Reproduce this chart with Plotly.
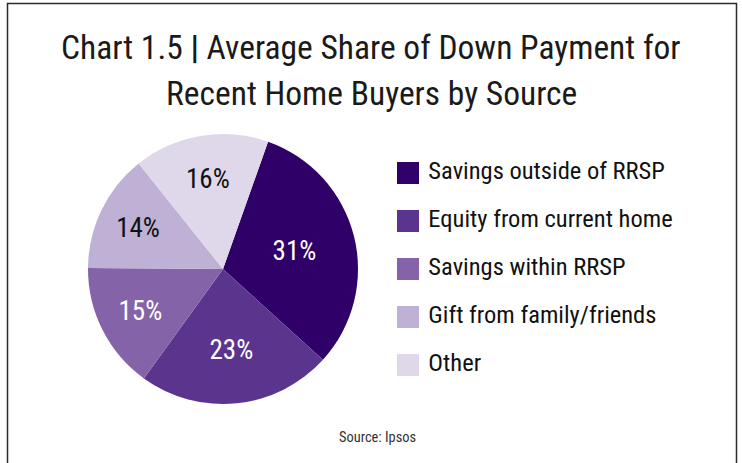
import plotly.graph_objects as go

# ---- data ----
sources = ["Savings outside of RRSP", "Equity from current home", "Savings within RRSP",
           "Gift from family/friends", "Other"]
shares = [31, 23, 15, 14, 16]
colors = ["#2E0068", "#5B358D", "#8463A8", "#BFB1D6", "#DFD8EA"]
label_colors = ["#FFFFFF", "#FFFFFF", "#FFFFFF", "#111111", "#111111"]
title_line1 = "Chart 1.5 <b>|</b> Average Share of Down Payment for"
title_line2 = "Recent Home Buyers by Source"
source_note = "Source: Ipsos"

FONT = "Liberation Sans Narrow, Roboto Condensed, DejaVu Sans Condensed, sans-serif"
W, H = 742, 463

fig = go.Figure()

fig.add_trace(go.Pie(
    labels=sources,
    values=shares,
    sort=False,
    direction="clockwise",
    rotation=19.5,
    marker=dict(colors=colors, line=dict(width=0)),
    texttemplate="%{value}%",
    textposition="inside",
    insidetextorientation="horizontal",
    insidetextfont=dict(family=FONT, size=27, color=label_colors),
    hoverinfo="skip",
    showlegend=False,
    domain=dict(x=[(223 - 135) / W, (223 + 135) / W], y=[(194 - 135) / H, (194 + 135) / H]),
))

# custom legend drawn as a scatter of square markers with labels
fig.add_trace(go.Scatter(
    x=[0] * len(sources),
    y=list(range(len(sources))),
    mode="markers+text",
    marker=dict(symbol="square", size=22, color=colors, line=dict(width=0)),
    text=["\u00a0" + s for s in sources],
    textposition="middle right",
    textfont=dict(family=FONT, size=24.5, color="#111111"),
    hoverinfo="skip",
    showlegend=False,
    cliponaxis=False,
))

fig.update_xaxes(visible=False, range=[-408, W - 408], domain=[0, 1], fixedrange=True)
fig.update_yaxes(visible=False, range=[(H - 173) / 48, -173 / 48], domain=[0, 1], fixedrange=True)

fig.update_layout(
    width=W, height=H,
    margin=dict(l=0, r=0, t=0, b=0),
    paper_bgcolor="white",
    plot_bgcolor="rgba(0,0,0,0)",
    annotations=[
        dict(text=title_line1, xref="paper", yref="paper", x=0.5, y=(H - 47.5) / H,
             xanchor="center", yanchor="middle", showarrow=False,
             font=dict(family=FONT, size=33.5, color="#1a1a1a")),
        dict(text=title_line2, xref="paper", yref="paper", x=0.5, y=(H - 94) / H,
             xanchor="center", yanchor="middle", showarrow=False,
             font=dict(family=FONT, size=33.5, color="#1a1a1a")),
        dict(text=source_note, xref="paper", yref="paper",
             x=377 / W, y=(H - 437) / H, xanchor="center", yanchor="middle",
             showarrow=False, font=dict(family=FONT, size=14.4, color="#333333")),
    ],
    shapes=[dict(
        type="rect", xref="paper", yref="paper",
        x0=7.5 / W, x1=736.5 / W, y0=-0.05, y1=(H - 3.5) / H,
        line=dict(color="#2a2a2a", width=1.5), fillcolor="rgba(0,0,0,0)", layer="above",
    )],
)

fig.write_html("out.html", config={"displayModeBar": False},
               post_script="document.body.style.margin='0';")
